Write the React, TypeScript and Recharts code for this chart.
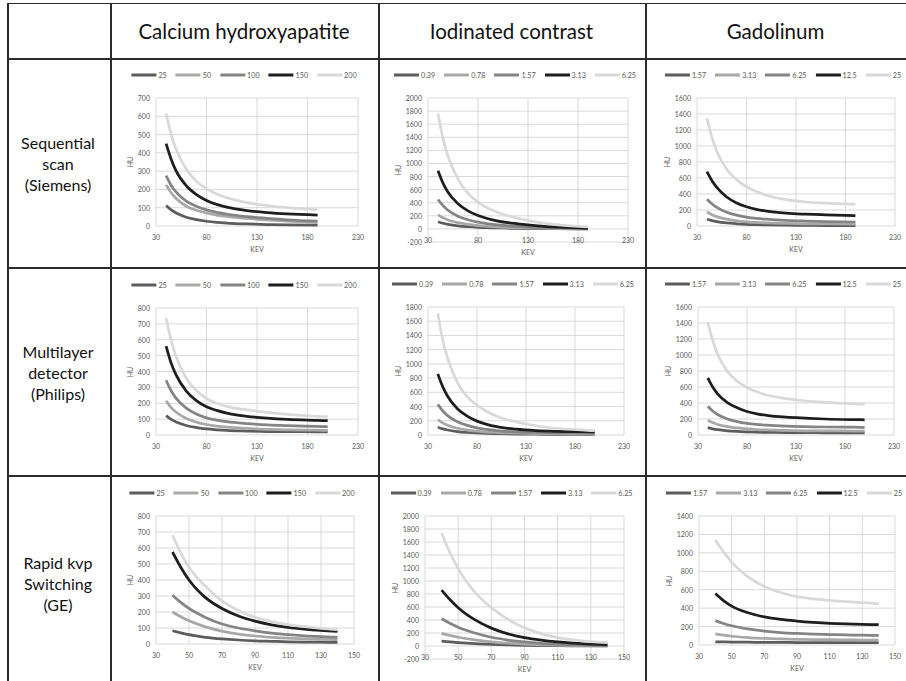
import React from "react";
import { LineChart, Line, XAxis, YAxis, CartesianGrid } from "recharts";

const FONT = "Lato, 'Open Sans', sans-serif";

// keV sample points for each scanner
const kevSiemens = [40, 45, 50, 60, 70, 80, 90, 100, 120, 140, 160, 190];
const kevPhilips = [40, 45, 50, 60, 70, 80, 90, 100, 120, 140, 160, 190, 200];
const kevGE = [40, 45, 50, 60, 70, 80, 90, 100, 110, 120, 130, 140];

// legend labels (concentrations)
const caConc = ["25", "50", "100", "150", "200"];
const iodConc = ["0.39", "0.78", "1.57", "3.13", "6.25"];
const gdConc = ["1.57", "3.13", "6.25", "12.5", "25"];

// axis ticks
const kevTicksWide = [30, 80, 130, 180, 230];
const kevTicksGE = [30, 50, 70, 90, 110, 130, 150];
const huTicks700 = [0, 100, 200, 300, 400, 500, 600, 700];
const huTicks800 = [0, 100, 200, 300, 400, 500, 600, 700, 800];
const huTicks1400 = [0, 200, 400, 600, 800, 1000, 1200, 1400];
const huTicks1600 = [0, 200, 400, 600, 800, 1000, 1200, 1400, 1600];
const huTicks1800 = [0, 200, 400, 600, 800, 1000, 1200, 1400, 1600, 1800];
const huTicks2000 = [-200, 0, 200, 400, 600, 800, 1000, 1200, 1400, 1600, 1800, 2000];

// HU values, one row per concentration (same order as the legend)
const siemensCa = [
  [112, 88, 71, 48, 35, 26, 20, 16, 11, 8, 6, 5],
  [225, 182, 150, 108, 86, 71, 60, 52, 41, 33, 27, 20],
  [275, 222, 185, 136, 108, 88, 75, 65, 51, 42, 34, 26],
  [450, 365, 300, 220, 172, 140, 118, 103, 84, 73, 66, 60],
  [615, 500, 418, 310, 245, 204, 175, 155, 128, 112, 101, 89],
];
const siemensIod = [
  [110, 86, 69, 47, 34, 25, 19, 14, 8, 5, 3, 0],
  [215, 170, 137, 95, 68, 50, 38, 29, 18, 11, 6, 2],
  [450, 355, 285, 195, 140, 103, 78, 60, 38, 24, 14, 5],
  [890, 700, 560, 385, 275, 204, 155, 120, 78, 48, 28, 10],
  [1760, 1380, 1110, 760, 545, 410, 315, 250, 160, 100, 62, 30],
];
const siemensGd = [
  [85, 68, 55, 38, 28, 21, 17, 14, 10, 8, 6, 5],
  [175, 142, 117, 85, 65, 52, 44, 38, 32, 28, 26, 24],
  [335, 278, 232, 172, 136, 112, 96, 85, 70, 62, 56, 50],
  [680, 570, 482, 362, 288, 240, 208, 186, 160, 148, 140, 130],
  [1350, 1110, 935, 710, 580, 490, 430, 385, 330, 300, 285, 270],
];
const philipsCa = [
  [122, 98, 82, 60, 47, 38, 33, 29, 25, 22, 21, 20, 19],
  [215, 173, 143, 104, 81, 66, 56, 49, 41, 36, 33, 30, 29],
  [345, 279, 231, 169, 132, 108, 94, 84, 72, 64, 59, 54, 52],
  [560, 453, 377, 277, 217, 178, 155, 138, 118, 106, 98, 92, 90],
  [735, 595, 492, 358, 280, 230, 200, 180, 158, 142, 130, 118, 115],
];
const philipsIod = [
  [110, 87, 70, 49, 37, 29, 23, 19, 14, 11, 9, 8, 8],
  [215, 170, 137, 95, 70, 53, 42, 35, 26, 21, 18, 16, 15],
  [430, 340, 272, 187, 135, 100, 78, 62, 45, 36, 31, 28, 27],
  [860, 680, 545, 370, 265, 195, 150, 118, 82, 62, 52, 46, 45],
  [1710, 1340, 1080, 740, 535, 420, 330, 265, 185, 130, 95, 68, 60],
];
const philipsGd = [
  [92, 77, 66, 52, 44, 39, 35, 33, 30, 29, 28, 27, 27],
  [185, 155, 132, 104, 88, 76, 68, 63, 57, 53, 51, 50, 49],
  [360, 300, 256, 200, 168, 146, 132, 122, 110, 104, 100, 97, 96],
  [715, 600, 515, 405, 340, 293, 265, 245, 222, 210, 200, 192, 190],
  [1410, 1180, 1010, 795, 672, 594, 540, 500, 455, 425, 408, 390, 385],
];
const geCa = [
  [83, 70, 58, 42, 32, 25, 20, 17, 14, 12, 11, 10],
  [200, 170, 145, 107, 80, 62, 50, 42, 36, 32, 29, 27],
  [305, 260, 222, 166, 125, 100, 82, 68, 58, 51, 46, 42],
  [575, 480, 400, 290, 222, 175, 143, 120, 104, 93, 85, 79],
  [680, 570, 480, 360, 270, 210, 167, 140, 121, 108, 98, 90],
];
const geIod = [
  [75, 62, 52, 36, 25, 17, 11, 7, 4, 2, 1, 0],
  [195, 163, 135, 93, 63, 43, 29, 19, 12, 7, 4, 2],
  [420, 350, 290, 200, 135, 92, 62, 42, 28, 18, 10, 5],
  [860, 715, 590, 405, 275, 187, 128, 90, 63, 44, 30, 20],
  [1740, 1440, 1190, 830, 590, 410, 280, 190, 130, 92, 68, 52],
];
const geGd = [
  [35, 33, 32, 30, 29, 28, 27, 26, 26, 25, 25, 25],
  [120, 106, 95, 81, 72, 66, 62, 59, 57, 55, 54, 53],
  [265, 234, 209, 174, 151, 135, 125, 118, 113, 109, 106, 104],
  [560, 482, 422, 350, 305, 278, 260, 246, 235, 228, 224, 220],
  [1140, 1010, 900, 740, 635, 570, 525, 500, 484, 470, 460, 450],
];

const seriesColors = ["#5c5c5c", "#a8a8a8", "#848484", "#1e1e1e", "#d9d9d9"];
const TEXT = "#595959";
const GRID = "#d9d9d9";
const RULE = "#2b2b2b";

type Spec = {
  kev: number[];
  hu: number[][];
  labels: string[];
  xTicks: number[];
  yTicks: number[];
  box: [number, number, number, number]; // plot area: left, top, right, bottom
};

const charts: Spec[] = [
  { kev: kevSiemens, hu: siemensCa, labels: caConc, xTicks: kevTicksWide, yTicks: huTicks700, box: [156, 98, 358, 226] },
  { kev: kevSiemens, hu: siemensIod, labels: iodConc, xTicks: kevTicksWide, yTicks: huTicks2000, box: [428, 98, 628, 242] },
  { kev: kevSiemens, hu: siemensGd, labels: gdConc, xTicks: kevTicksWide, yTicks: huTicks1600, box: [697, 98, 895, 226] },
  { kev: kevPhilips, hu: philipsCa, labels: caConc, xTicks: kevTicksWide, yTicks: huTicks800, box: [156, 308, 358, 435] },
  { kev: kevPhilips, hu: philipsIod, labels: iodConc, xTicks: kevTicksWide, yTicks: huTicks1800, box: [428, 307, 624, 435] },
  { kev: kevPhilips, hu: philipsGd, labels: gdConc, xTicks: kevTicksWide, yTicks: huTicks1600, box: [698, 307, 894, 435] },
  { kev: kevGE, hu: geCa, labels: caConc, xTicks: kevTicksGE, yTicks: huTicks800, box: [156, 516, 354, 644] },
  { kev: kevGE, hu: geIod, labels: iodConc, xTicks: kevTicksGE, yTicks: huTicks2000, box: [425, 516, 624, 659] },
  { kev: kevGE, hu: geGd, labels: gdConc, xTicks: kevTicksGE, yTicks: huTicks1400, box: [699, 516, 895, 645] },
];

const columnTitles = ["Calcium hydroxyapatite", "Iodinated contrast", "Gadolinum"];
const rowTitles = [
  ["Sequential", "scan", "(Siemens)"],
  ["Multilayer", "detector", "(Philips)"],
  ["Rapid kvp", "Switching", "(GE)"],
];

const XTick = ({ x, y, payload, dy }: any) => (
  <text x={x} y={y + dy} textAnchor="middle" dominantBaseline="central" fontSize={7} fill={TEXT} fontFamily={FONT}>
    {payload.value}
  </text>
);

const YTick = ({ x, y, payload }: any) => (
  <text x={x - 6} y={y} textAnchor="end" dominantBaseline="central" fontSize={7} fill={TEXT} fontFamily={FONT}>
    {payload.value}
  </text>
);

function MiniChart({ spec }: { spec: Spec }) {
  const { kev, hu, labels, xTicks, yTicks, box } = spec;
  const [L, T, R, B] = box;
  const yMin = yTicks[0];
  const yMax = yTicks[yTicks.length - 1];
  const zeroY = T + ((B - T) * yMax) / (yMax - yMin);
  const data = kev.map((k, i) => {
    const row: Record<string, number> = { kev: k };
    hu.forEach((s, j) => (row["s" + j] = s[i]));
    return row;
  });
  const padL = 40, padT = 8, padR = 8, padB = 20;
  const wide = yMax >= 1000;

  return (
    <>
      {/* legend */}
      <div
        style={{
          position: "absolute",
          left: (L + R) / 2 - 13,
          top: T - 23,
          transform: "translate(-50%, -50%)",
          display: "flex",
          alignItems: "center",
          whiteSpace: "nowrap",
          fontFamily: FONT,
          fontSize: 7.2,
          color: TEXT,
        }}
      >
        {labels.map((lab, j) => (
          <div key={lab} style={{ display: "flex", alignItems: "center", marginRight: j < labels.length - 1 ? 9 : 0 }}>
            <span style={{ display: "inline-block", width: 25, height: 3, background: seriesColors[j], marginRight: 2 }} />
            <span>{lab}</span>
          </div>
        ))}
      </div>

      <div style={{ position: "absolute", left: L - padL, top: T - padT }}>
        <LineChart
          width={R - L + padL + padR}
          height={B - T + padT + padB}
          data={data}
          margin={{ top: padT, right: padR, bottom: 0, left: 0 }}
        >
          <CartesianGrid stroke={GRID} strokeWidth={1} />
          <XAxis
            dataKey="kev"
            type="number"
            domain={[xTicks[0], xTicks[xTicks.length - 1]]}
            ticks={xTicks}
            interval={0}
            height={padB}
            tickSize={0}
            tickMargin={0}
            tickLine={false}
            axisLine={false}
            tick={<XTick dy={zeroY - B + 11} />}
          />
          <YAxis
            type="number"
            domain={[yMin, yMax]}
            ticks={yTicks}
            interval={0}
            width={padL}
            tickSize={0}
            tickMargin={0}
            tickLine={false}
            axisLine={false}
            tick={<YTick />}
          />
          {hu.map((_, j) => (
            <Line
              key={j}
              dataKey={"s" + j}
              type="monotone"
              stroke={seriesColors[j]}
              strokeWidth={2.75}
              dot={false}
              isAnimationActive={false}
            />
          ))}
        </LineChart>
      </div>

      {/* axis titles */}
      <div
        style={{
          position: "absolute",
          left: L - (wide ? 30 : 26),
          top: (T + B) / 2,
          transform: "translate(-50%, -50%) rotate(-90deg)",
          fontFamily: FONT,
          fontSize: 7,
          color: TEXT,
        }}
      >
        HU
      </div>
      <div
        style={{
          position: "absolute",
          left: (L + R) / 2,
          top: zeroY + 23,
          transform: "translate(-50%, -50%)",
          fontFamily: FONT,
          fontSize: 7,
          color: TEXT,
        }}
      >
        KEV
      </div>
    </>
  );
}

const colX = [7, 110, 378, 645, 906];
const rowY = [3, 58, 267, 475, 681];

export default function App() {
  return (
    <div
      style={{
        position: "absolute",
        left: 0,
        top: 0,
        width: 906,
        height: 681,
        overflow: "hidden",
        background: "#fff",
        fontFamily: FONT,
      }}
    >
      {/* table rules */}
      <div style={{ position: "absolute", left: 7, top: rowY[0], width: 900, height: 1, background: RULE }} />
      {rowY.slice(1, 4).map((y) => (
        <div key={y} style={{ position: "absolute", left: 7, top: y, width: 900, height: 2, background: RULE }} />
      ))}
      {colX.slice(0, 4).map((x) => (
        <div key={x} style={{ position: "absolute", left: x, top: rowY[0], width: 1.5, height: 690, background: RULE }} />
      ))}

      {/* column headings */}
      {columnTitles.map((t, i) => (
        <div
          key={t}
          style={{
            position: "absolute",
            left: (colX[i + 1] + colX[i + 2]) / 2,
            top: 31,
            transform: "translate(-50%, -50%)",
            fontSize: 20.5,
            color: "#111",
            whiteSpace: "nowrap",
          }}
        >
          {t}
        </div>
      ))}

      {/* row headings */}
      {rowTitles.map((lines, i) => (
        <div
          key={i}
          style={{
            position: "absolute",
            left: 58,
            top: [163, 372, 583][i],
            transform: "translate(-50%, -50%)",
            fontSize: 16,
            lineHeight: "21px",
            textAlign: "center",
            color: "#111",
            whiteSpace: "nowrap",
          }}
        >
          {lines.map((l) => (
            <div key={l}>{l}</div>
          ))}
        </div>
      ))}

      {charts.map((c, i) => (
        <MiniChart key={i} spec={c} />
      ))}
    </div>
  );
}
